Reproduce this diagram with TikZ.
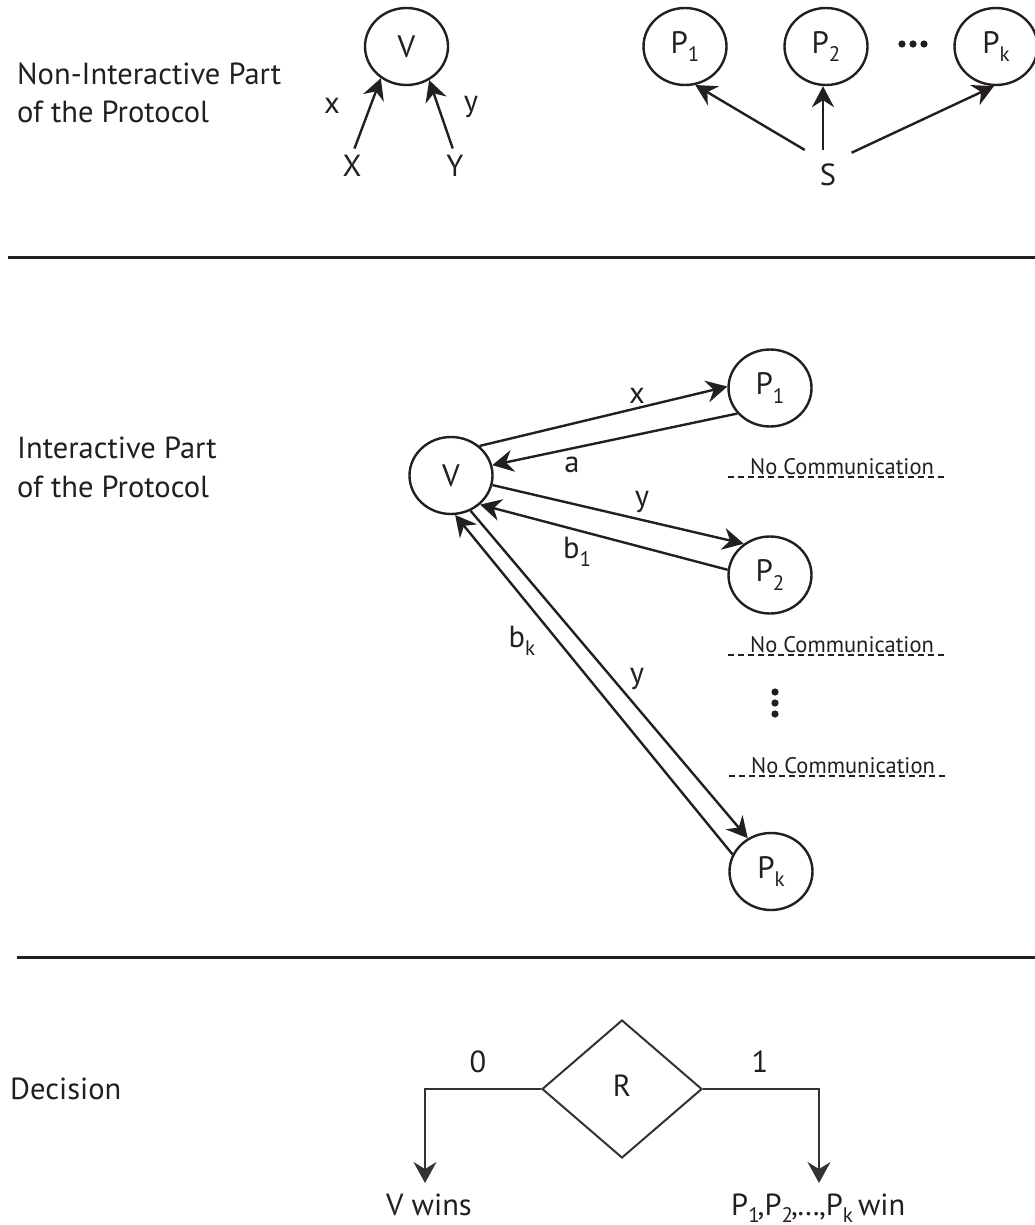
\documentclass[tikz,border=0pt]{standalone}
\usepackage{fontspec}
\setmainfont{PT Sans}
\usetikzlibrary{arrows.meta,shapes.geometric,calc}
\definecolor{ink}{HTML}{231F20}
\definecolor{ink2}{HTML}{333333}
% lowered, smaller index after a letter (P_1, b_k, ...)
\newcommand\lowsub[1]{\raisebox{-0.26em}{\fontsize{21}{21}\selectfont #1}}

\begin{document}
\begin{tikzpicture}[x=1pt,y=-1pt,
  txt/.style={font=\fontsize{30.5}{34}\selectfont, text=ink, inner sep=0pt},
  party/.style={ellipse, draw=ink, line width=2.4pt, minimum width=83pt,
    minimum height=77pt, inner sep=0pt, font=\fontsize{31}{34}\selectfont, text=ink},
  arr/.style={draw=ink, line width=2.4pt, -{Stealth[length=21pt,width=22pt,inset=7pt]}},
  link/.style={draw=ink2, line width=2pt, -{Stealth[length=21pt,width=23pt,inset=7pt]}},
  sep/.style={draw=ink, line width=3pt},
  nocomm/.style={font=\fontsize{22.5}{24}\selectfont, text=ink, inner sep=0pt},
  dashrule/.style={draw=ink, line width=2pt, dash pattern=on 6pt off 4pt},
  dotmark/.style={fill=ink, draw=none},
]
\useasboundingbox (0,0) rectangle (1035,1225);
\fill[white] (0,0) rectangle (1035,1225);

% ---------- non-interactive part ----------
\node[txt, anchor=base west] (t1a) at (17,85) {Non-Interactive Part};
\node[txt, anchor=base west] (t1b) at (17,123) {of the Protocol};

\node[party] (V0) at (406.5,46.5) {V};
\node[txt] (X) at (352,166) {X};
\node[txt] (Y) at (455,166) {Y};
\draw[arr, shorten <=7pt] (X.north) -- (V0.231.6);
\draw[arr, shorten <=7pt] (Y.north) -- (V0.-56.5);
\node[txt] (lx0) at (332,106) {x};
\node[txt] (ly0) at (471,107) {y};

\node[party] (P1t) at (685,46.5) {P\lowsub{1}};
\node[party] (P2t) at (826,46.5) {P\lowsub{2}};
\node[party] (Pkt) at (996,46.5) {P\lowsub{k}};
\node[txt] (S) at (828,175) {S};
\draw[arr, shorten <=27pt] (S.north) -- (P1t.-75);
\draw[arr, shorten <=14pt] ([xshift=-5pt]S.north) -- ([xshift=-5pt]S.north |- P2t.south);
\draw[arr, shorten <=26pt] (S.north) -- (Pkt.-93);
\foreach \x in {902,913,924} \fill[dotmark] (\x,44) circle (3.6);

\draw[sep] (8,257) -- (1035,257);

% ---------- interactive part ----------
\node[txt, anchor=base west] (t2a) at (17,458) {Interactive Part};
\node[txt, anchor=base west] (t2b) at (17,497) {of the Protocol};

\node[party] (V)  at (451,475.5) {V};
\node[party] (P1) at (770,388)   {P\lowsub{1}};
\node[party] (P2) at (770,575)   {P\lowsub{2}};
\node[party] (Pk) at (771,871.5) {P\lowsub{k}};

\draw[arr] (V.46.5)  -- (P1.178);
\draw[arr] (P1.218.5) -- (V.14);
\draw[arr] (V.-13)   -- (P2.130);
\draw[arr] (P2.173)  -- (V.-45.5);
\draw[arr] (Pk.156)  -- (V.-84);
\draw[arr] (V.-61)   -- (Pk.125);

\node[txt] (lx)  at (637,396) {x};
\node[txt] (la)  at (572,465) {a};
\node[txt] (ly)  at (642,502) {y};
\node[txt] (lb1) at (577,552) {b\lowsub{1}};
\node[txt] (lbk) at (522,641) {b\lowsub{k}};
\node[txt] (ly2) at (637,679) {y};

\node[nocomm, anchor=base] (nc1) at (842,474) {No Communication};
\node[nocomm, anchor=base] (nc2) at (842,652) {No Communication};
\node[nocomm, anchor=base] (nc3) at (843,773) {No Communication};
\foreach \n in {nc1,nc2,nc3}
  \draw[dashrule] ($(\n.base)+(-114,3)$) -- ($(\n.base)+(105,3)$);
\foreach \y in {692,703,714} \fill[dotmark] (775,\y) circle (3.6);

\draw[sep] (17,957) -- (1035,957);

% ---------- decision ----------
\node[txt, anchor=base west] (t3) at (10,1099) {Decision};
\node[txt, diamond, draw=ink2, line width=2pt, minimum width=160pt,
  minimum height=138pt, inner sep=0pt, text depth=6pt] (R) at (622,1089) {R};
\coordinate (w0) at (425,1183);
\coordinate (w1) at (819,1183);
\draw[link] (R.west) -| (w0);
\draw[link] (R.east) -| (w1);
\node[txt] (l0) at (478,1062) {0};
\node[txt] (l1) at (760,1062) {1};
\node[txt, anchor=base] (vwin) at (429,1215) {V wins};
\node[txt, anchor=base west] (pwin) at (731,1215)
  {P\lowsub{1}\kern-2pt,P\lowsub{2}\kern-2pt,\kern-1pt…\kern-1pt,P\lowsub{k}\kern5pt win};
\end{tikzpicture}
\end{document}
